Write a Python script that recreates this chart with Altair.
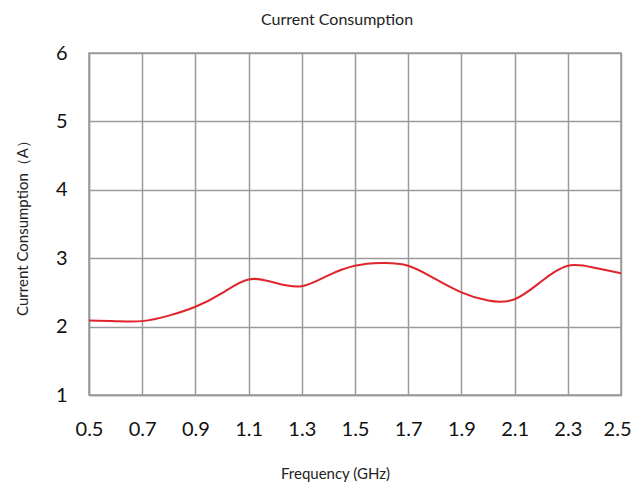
import altair as alt
import pandas as pd

freq = [0.5, 0.6, 0.7, 0.8, 0.9, 1.0, 1.1, 1.2, 1.3, 1.4, 1.5, 1.6, 1.7, 1.8, 1.9, 2.0, 2.1, 2.2, 2.3, 2.4, 2.5]
current = [2.09, 2.08, 2.08, 2.16, 2.29, 2.49, 2.69, 2.64, 2.59, 2.75, 2.89, 2.93, 2.89, 2.70, 2.50, 2.38, 2.40, 2.66, 2.89, 2.86, 2.78]
x_ticks = [0.5, 0.7, 0.9, 1.1, 1.3, 1.5, 1.7, 1.9, 2.1, 2.3, 2.5]
y_ticks = [1, 2, 3, 4, 5, 6]

df = pd.DataFrame({"f": freq, "c": current})

FONT = "Lato"
GRID = "#9a9a9a"

chart = alt.Chart(df).mark_line(color="#e0242c", strokeWidth=2, interpolate="natural").encode(
    x=alt.X("f:Q", scale=alt.Scale(domain=[0.5, 2.5], nice=False, zero=False),
            axis=alt.Axis(values=x_ticks, format=".1f", title="Frequency (GHz)",
                          grid=True, gridColor=GRID, gridWidth=1.5, ticks=False,
                          domainColor=GRID, domainWidth=1.5,
                          labelFont=FONT, labelFontSize=20, labelColor="#111", labelPadding=24,
                          labelFlush=False,
                          labelAlign={"condition": {"test": "datum.value >= 2.45", "value": "right"}, "value": "center"},
                          labelOffset={"condition": {"test": "datum.value >= 2.45", "value": 10}, "value": 0},
                          titleFont=FONT, titleFontSize=15, titleFontWeight="normal", titleColor="#222",
                          titleX=246, titleY=78, titleBaseline="middle", titleAlign="center")),
    y=alt.Y("c:Q", scale=alt.Scale(domain=[1, 6], nice=False, zero=False),
            axis=alt.Axis(values=y_ticks, format="d", title="Current Consumption（A）",
                          grid=True, gridColor=GRID, gridWidth=1.5, ticks=False,
                          domainColor=GRID, domainWidth=1.5,
                          labelFont=FONT, labelFontSize=20, labelColor="#111", labelPadding=22,
                          labelFlush=False,
                          titleFont=FONT, titleFontSize=15, titleFontWeight="normal", titleColor="#222",
                          titleX=-67, titleY=171, titleBaseline="middle", titleAlign="center")),
).properties(
    width=532, height=342,
    autosize=alt.AutoSizeParams(type="none"),
    padding={"left": 81, "top": 45, "right": 12, "bottom": 89},
    title=alt.TitleParams("Current Consumption", font=FONT, fontSize=16, fontWeight="normal",
                          color="#222", dx=-18, offset=15),
).configure_view(stroke=GRID, strokeWidth=1.5)

chart.save("out.html", embed_options={"renderer": "svg", "actions": False})
